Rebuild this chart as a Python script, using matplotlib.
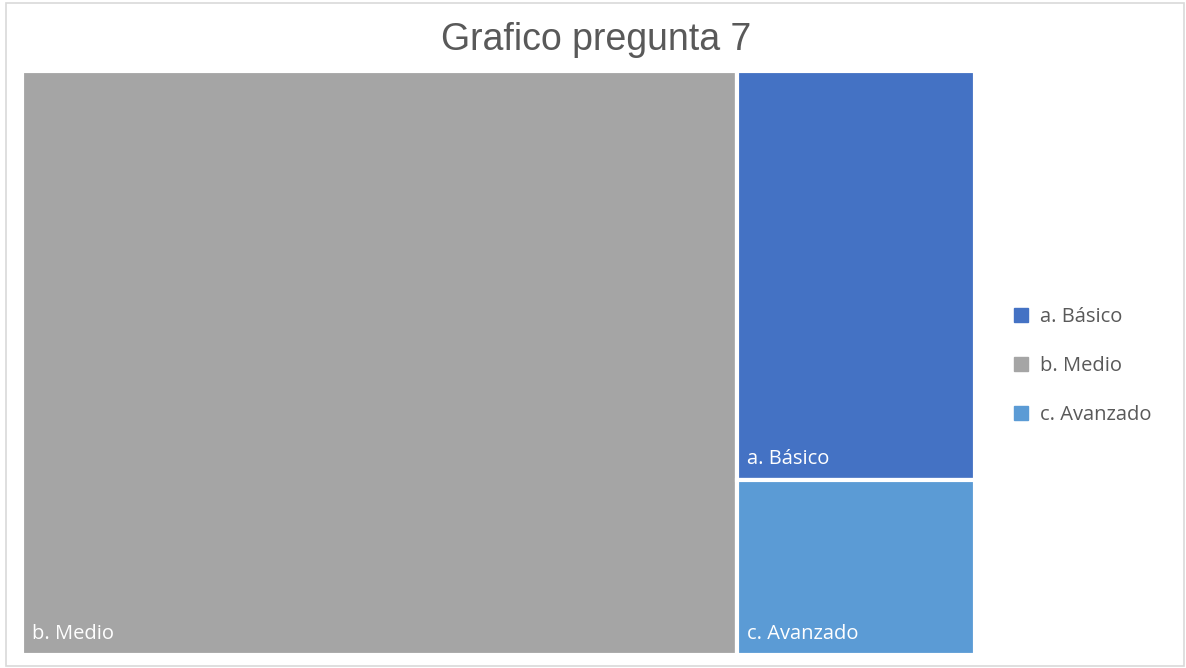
import matplotlib.pyplot as plt
from matplotlib.patches import Rectangle

plt.rcParams['font.family'] = ['Open Sans', 'DejaVu Sans']

categorias = ['a. Básico', 'b. Medio', 'c. Avanzado']
valores = [7, 30, 3]
colores = ['#4472C4', '#A5A5A5', '#5B9BD5']

fig = plt.figure(figsize=(11.86, 6.68), dpi=100)
# borde del area del grafico
fig.patches.append(Rectangle((6 / 1186, 2 / 668), 1178 / 1186, 663 / 668,
                             transform=fig.transFigure, fill=False,
                             edgecolor='#D9D9D9', linewidth=1.2))

ax = fig.add_axes([22 / 1186, 13 / 668, 953 / 1186, 584 / 668])
ax.set_xlim(0, 1)
ax.set_ylim(0, 1)
ax.axis('off')

# disposicion del treemap: el mayor ocupa una columna, el resto se apila
total = sum(valores)
orden = sorted(range(len(valores)), key=lambda i: -valores[i])
primero = orden[0]
w0 = valores[primero] / total
rects = {primero: (0, 0, w0, 1)}
resto = sum(valores[i] for i in orden[1:])
y = 1.0
for i in orden[1:]:
    h = valores[i] / resto
    y -= h
    rects[i] = (w0, y, 1 - w0, h)

for i, (x0, y0, w, h) in rects.items():
    ax.add_patch(Rectangle((x0, y0), w, h, facecolor=colores[i],
                           edgecolor='white', linewidth=3))
    ax.text(x0 + 0.011, y0 + 0.036, categorias[i], color='white',
            fontsize=14.5, va='center', ha='left')

fig.text(596 / 1186, 1 - 40 / 668, 'Grafico pregunta 7', ha='center',
         va='center', fontsize=27, color='#595959', family='Liberation Sans')

handles = [Rectangle((0, 0), 1, 1, color=c) for c in colores]
fig.legend(handles, categorias, loc='center left',
           bbox_to_anchor=(996 / 1186, 1 - 366 / 668), frameon=False,
           fontsize=14.5, labelcolor='#595959', handlelength=0.7,
           handleheight=0.7, handletextpad=0.6, labelspacing=1.45)

fig.savefig('out.png', dpi=100)
